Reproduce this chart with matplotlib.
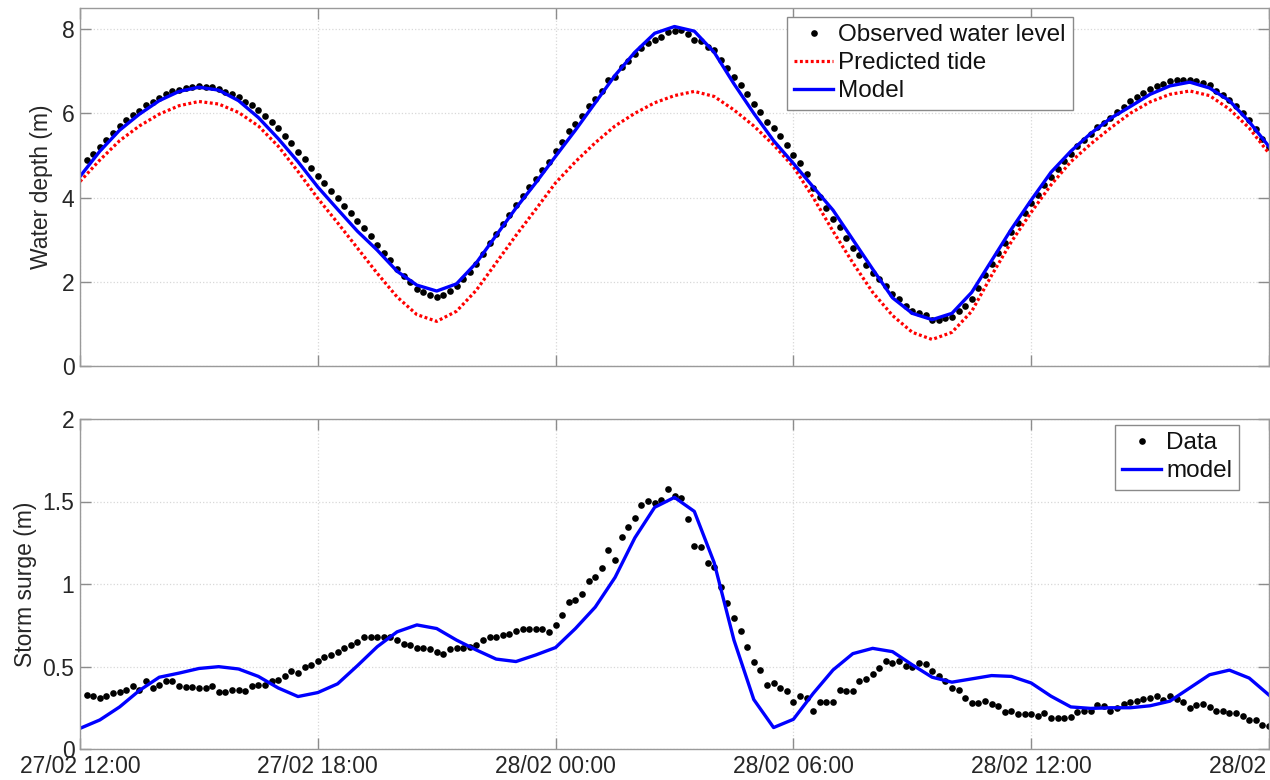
import numpy as np
import matplotlib
matplotlib.use('Agg')
import matplotlib.pyplot as plt

plt.rcParams['font.family'] = ['Liberation Sans', 'DejaVu Sans']

# ---------------- data ----------------
# time axis: hours after 27/02 12:00
tick_hours = [0, 6, 12, 18, 24, 30]
tick_labels = ['27/02 12:00', '27/02 18:00', '28/02 00:00',
               '28/02 06:00', '28/02 12:00', '28/02 18:00']

# half-hourly series (0 .. 30 h)
t_half = np.arange(61) * 0.5
tide = [4.38, 4.89, 5.35, 5.70, 5.98, 6.18, 6.28, 6.22, 6.02, 5.70,
        5.22, 4.62, 3.98, 3.40, 2.80, 2.20, 1.64, 1.22, 1.06, 1.30,
        1.80, 2.45, 3.10, 3.72, 4.35, 4.85, 5.30, 5.70, 6.00, 6.25,
        6.42, 6.52, 6.40, 6.08, 5.70, 5.25, 4.73, 4.00, 3.20, 2.45,
        1.75, 1.20, 0.80, 0.63, 0.80, 1.30, 2.15, 2.95, 3.65, 4.30,
        4.85, 5.27, 5.65, 6.00, 6.27, 6.45, 6.53, 6.42, 6.10, 5.65, 5.05]
model_depth = [4.50, 5.10, 5.60, 5.98, 6.30, 6.52, 6.62, 6.55, 6.30, 5.90,
               5.40, 4.85, 4.25, 3.72, 3.20, 2.75, 2.25, 1.92, 1.78, 1.95,
               2.45, 3.10, 3.75, 4.35, 4.98, 5.60, 6.25, 6.90, 7.45, 7.90,
               8.06, 7.95, 7.45, 6.70, 6.00, 5.35, 4.81, 4.25, 3.70, 3.00,
               2.30, 1.62, 1.25, 1.10, 1.25, 1.75, 2.50, 3.25, 3.94, 4.60,
               5.10, 5.52, 5.88, 6.16, 6.45, 6.65, 6.74, 6.60, 6.30, 5.80, 5.21]
model_surge = [0.125, 0.176, 0.255, 0.355, 0.435, 0.46, 0.488, 0.499, 0.485, 0.44,
               0.37, 0.318, 0.342, 0.395, 0.505, 0.62, 0.71, 0.752, 0.73, 0.66,
               0.60, 0.545, 0.53, 0.57, 0.615, 0.73, 0.86, 1.04, 1.28, 1.465,
               1.525, 1.44, 1.13, 0.66, 0.30, 0.13, 0.18, 0.337, 0.479, 0.578,
               0.61, 0.59, 0.51, 0.435, 0.405, 0.425, 0.445, 0.44, 0.40, 0.32,
               0.255, 0.246, 0.25, 0.25, 0.262, 0.29, 0.37, 0.45, 0.478, 0.43, 0.327]

# 10-minute observations (12:10 .. 18:00 next day)
t_obs = np.arange(1, 181) / 6.0
observed = [4.88, 5.04, 5.20, 5.36, 5.54, 5.70, 5.83, 5.96, 6.06, 6.20,
            6.26, 6.37, 6.46, 6.52, 6.56, 6.59, 6.63, 6.65, 6.63, 6.62,
            6.57, 6.50, 6.45, 6.38, 6.26, 6.19, 6.09, 5.93, 5.79, 5.64,
            5.46, 5.29, 5.08, 4.91, 4.70, 4.52, 4.35, 4.16, 3.99, 3.81,
            3.63, 3.45, 3.28, 3.08, 2.88, 2.69, 2.51, 2.30, 2.14, 1.99,
            1.83, 1.75, 1.69, 1.65, 1.68, 1.78, 1.91, 2.06, 2.24, 2.43,
            2.67, 2.91, 3.13, 3.36, 3.58, 3.82, 4.04, 4.24, 4.45, 4.66,
            4.85, 5.10, 5.33, 5.57, 5.75, 5.94, 6.17, 6.34, 6.53, 6.78,
            6.85, 7.09, 7.25, 7.40, 7.56, 7.67, 7.74, 7.82, 7.93, 7.95,
            7.97, 7.88, 7.75, 7.71, 7.57, 7.51, 7.27, 7.08, 6.87, 6.67,
            6.45, 6.23, 6.03, 5.79, 5.65, 5.45, 5.25, 5.01, 4.81, 4.55,
            4.23, 4.01, 3.75, 3.48, 3.31, 3.05, 2.80, 2.63, 2.40, 2.20,
            2.06, 1.91, 1.72, 1.60, 1.43, 1.30, 1.26, 1.20, 1.10, 1.10,
            1.13, 1.17, 1.31, 1.43, 1.58, 1.86, 2.16, 2.42, 2.68, 2.91,
            3.18, 3.39, 3.63, 3.86, 4.07, 4.30, 4.49, 4.67, 4.86, 5.04,
            5.22, 5.36, 5.50, 5.67, 5.78, 5.88, 6.02, 6.15, 6.29, 6.38,
            6.48, 6.58, 6.65, 6.69, 6.77, 6.78, 6.80, 6.78, 6.76, 6.73,
            6.67, 6.54, 6.44, 6.32, 6.17, 6.00, 5.83, 5.63, 5.40, 5.19]
surge_data = [0.33, 0.32, 0.31, 0.32, 0.34, 0.345, 0.36, 0.38, 0.36, 0.41,
              0.37, 0.39, 0.41, 0.41, 0.38, 0.375, 0.375, 0.37, 0.37, 0.38,
              0.345, 0.345, 0.36, 0.36, 0.35, 0.38, 0.385, 0.385, 0.41, 0.42,
              0.44, 0.47, 0.46, 0.50, 0.51, 0.535, 0.56, 0.57, 0.59, 0.61,
              0.63, 0.65, 0.68, 0.68, 0.677, 0.68, 0.677, 0.66, 0.636, 0.63,
              0.61, 0.61, 0.604, 0.59, 0.576, 0.604, 0.61, 0.61, 0.62, 0.63,
              0.661, 0.677, 0.681, 0.69, 0.70, 0.717, 0.725, 0.729, 0.725, 0.725,
              0.707, 0.75, 0.81, 0.893, 0.903, 0.939, 1.02, 1.044, 1.095, 1.206,
              1.145, 1.287, 1.348, 1.398, 1.479, 1.503, 1.489, 1.509, 1.574, 1.533,
              1.519, 1.392, 1.23, 1.226, 1.129, 1.105, 0.984, 0.887, 0.792, 0.717,
              0.616, 0.529, 0.479, 0.388, 0.402, 0.372, 0.352, 0.283, 0.323, 0.307,
              0.23, 0.283, 0.283, 0.283, 0.358, 0.354, 0.352, 0.412, 0.422, 0.453,
              0.493, 0.533, 0.519, 0.533, 0.503, 0.495, 0.523, 0.515, 0.473, 0.442,
              0.414, 0.372, 0.358, 0.307, 0.277, 0.277, 0.293, 0.273, 0.261, 0.226,
              0.232, 0.212, 0.212, 0.212, 0.20, 0.216, 0.186, 0.186, 0.186, 0.192,
              0.226, 0.232, 0.232, 0.267, 0.261, 0.232, 0.246, 0.273, 0.287, 0.293,
              0.301, 0.307, 0.321, 0.297, 0.321, 0.301, 0.287, 0.246, 0.267, 0.273,
              0.253, 0.232, 0.232, 0.22, 0.216, 0.20, 0.176, 0.176, 0.145, 0.139]

depth_ticks = [0, 2, 4, 6, 8]
surge_ticks = [0, 0.5, 1, 1.5, 2]
surge_tick_labels = ['0', '0.5', '1', '1.5', '2']

# ---------------- figure ----------------
W, H = 1270, 780
fig = plt.figure(figsize=(W / 100, H / 100), dpi=100)
ax1 = fig.add_axes([80 / W, 1 - 366 / H, 1189 / W, 358 / H])
ax2 = fig.add_axes([80 / W, 1 - 749 / H, 1189 / W, 330 / H])

FS = 16.5
TXT = '#262626'
MS = 4.8

ax1.plot(t_obs, observed, 'o', color='k', ms=MS, mec='none',
         label='Observed water level')
ax1.plot(t_half, tide, color='#ff0000', lw=2.3, dashes=(0.9, 0.8),
         solid_joinstyle='round', label='Predicted tide')
ax1.plot(t_half, model_depth, '-', color='#0000ff', lw=2.4,
         solid_joinstyle='round', label='Model')

ax2.plot(t_obs, surge_data, 'o', color='k', ms=MS, mec='none', label='Data')
ax2.plot(t_half, model_surge, '-', color='#0000ff', lw=2.4,
         solid_joinstyle='round', label='model')

for ax in (ax1, ax2):
    ax.set_xlim(0, 30)
    ax.set_xticks(tick_hours)
    ax.grid(True, color='#d8d8d8', linestyle=':', linewidth=0.9)
    ax.set_axisbelow(True)
    ax.tick_params(direction='in', length=8, width=1, color='#8c8c8c',
                   labelsize=FS, labelcolor=TXT, top=True, right=True, pad=4)
    for s in ax.spines.values():
        s.set_color('#9a9a9a')
        s.set_linewidth(1.0)

ax1.set_ylim(0, 8.5)
ax1.set_yticks(depth_ticks)
ax1.set_xticklabels([])
ax1.set_ylabel('Water depth (m)', fontsize=FS, color=TXT, labelpad=6)

ax2.set_ylim(0, 2)
ax2.set_yticks(surge_ticks)
ax2.set_yticklabels(surge_tick_labels)
ax2.set_xticklabels(tick_labels)
ax2.set_ylabel('Storm surge (m)', fontsize=FS, color=TXT, labelpad=4)

leg_kw = dict(fontsize=17.5, frameon=True, fancybox=False, edgecolor='#8a8a8a',
              framealpha=1, labelspacing=0.25, handlelength=1.6,
              handletextpad=0.2, borderpad=0.3, borderaxespad=0, numpoints=1)
leg1 = ax1.legend(loc='upper right', bbox_to_anchor=(0.835, 0.975), **leg_kw)
leg2 = ax2.legend(loc='upper right', bbox_to_anchor=(0.975, 0.982), **leg_kw)
for lg in (leg1, leg2):
    lg.get_frame().set_linewidth(1.0)
    for t in lg.get_texts():
        t.set_color('#111111')

fig.savefig('out.png', dpi=100)
